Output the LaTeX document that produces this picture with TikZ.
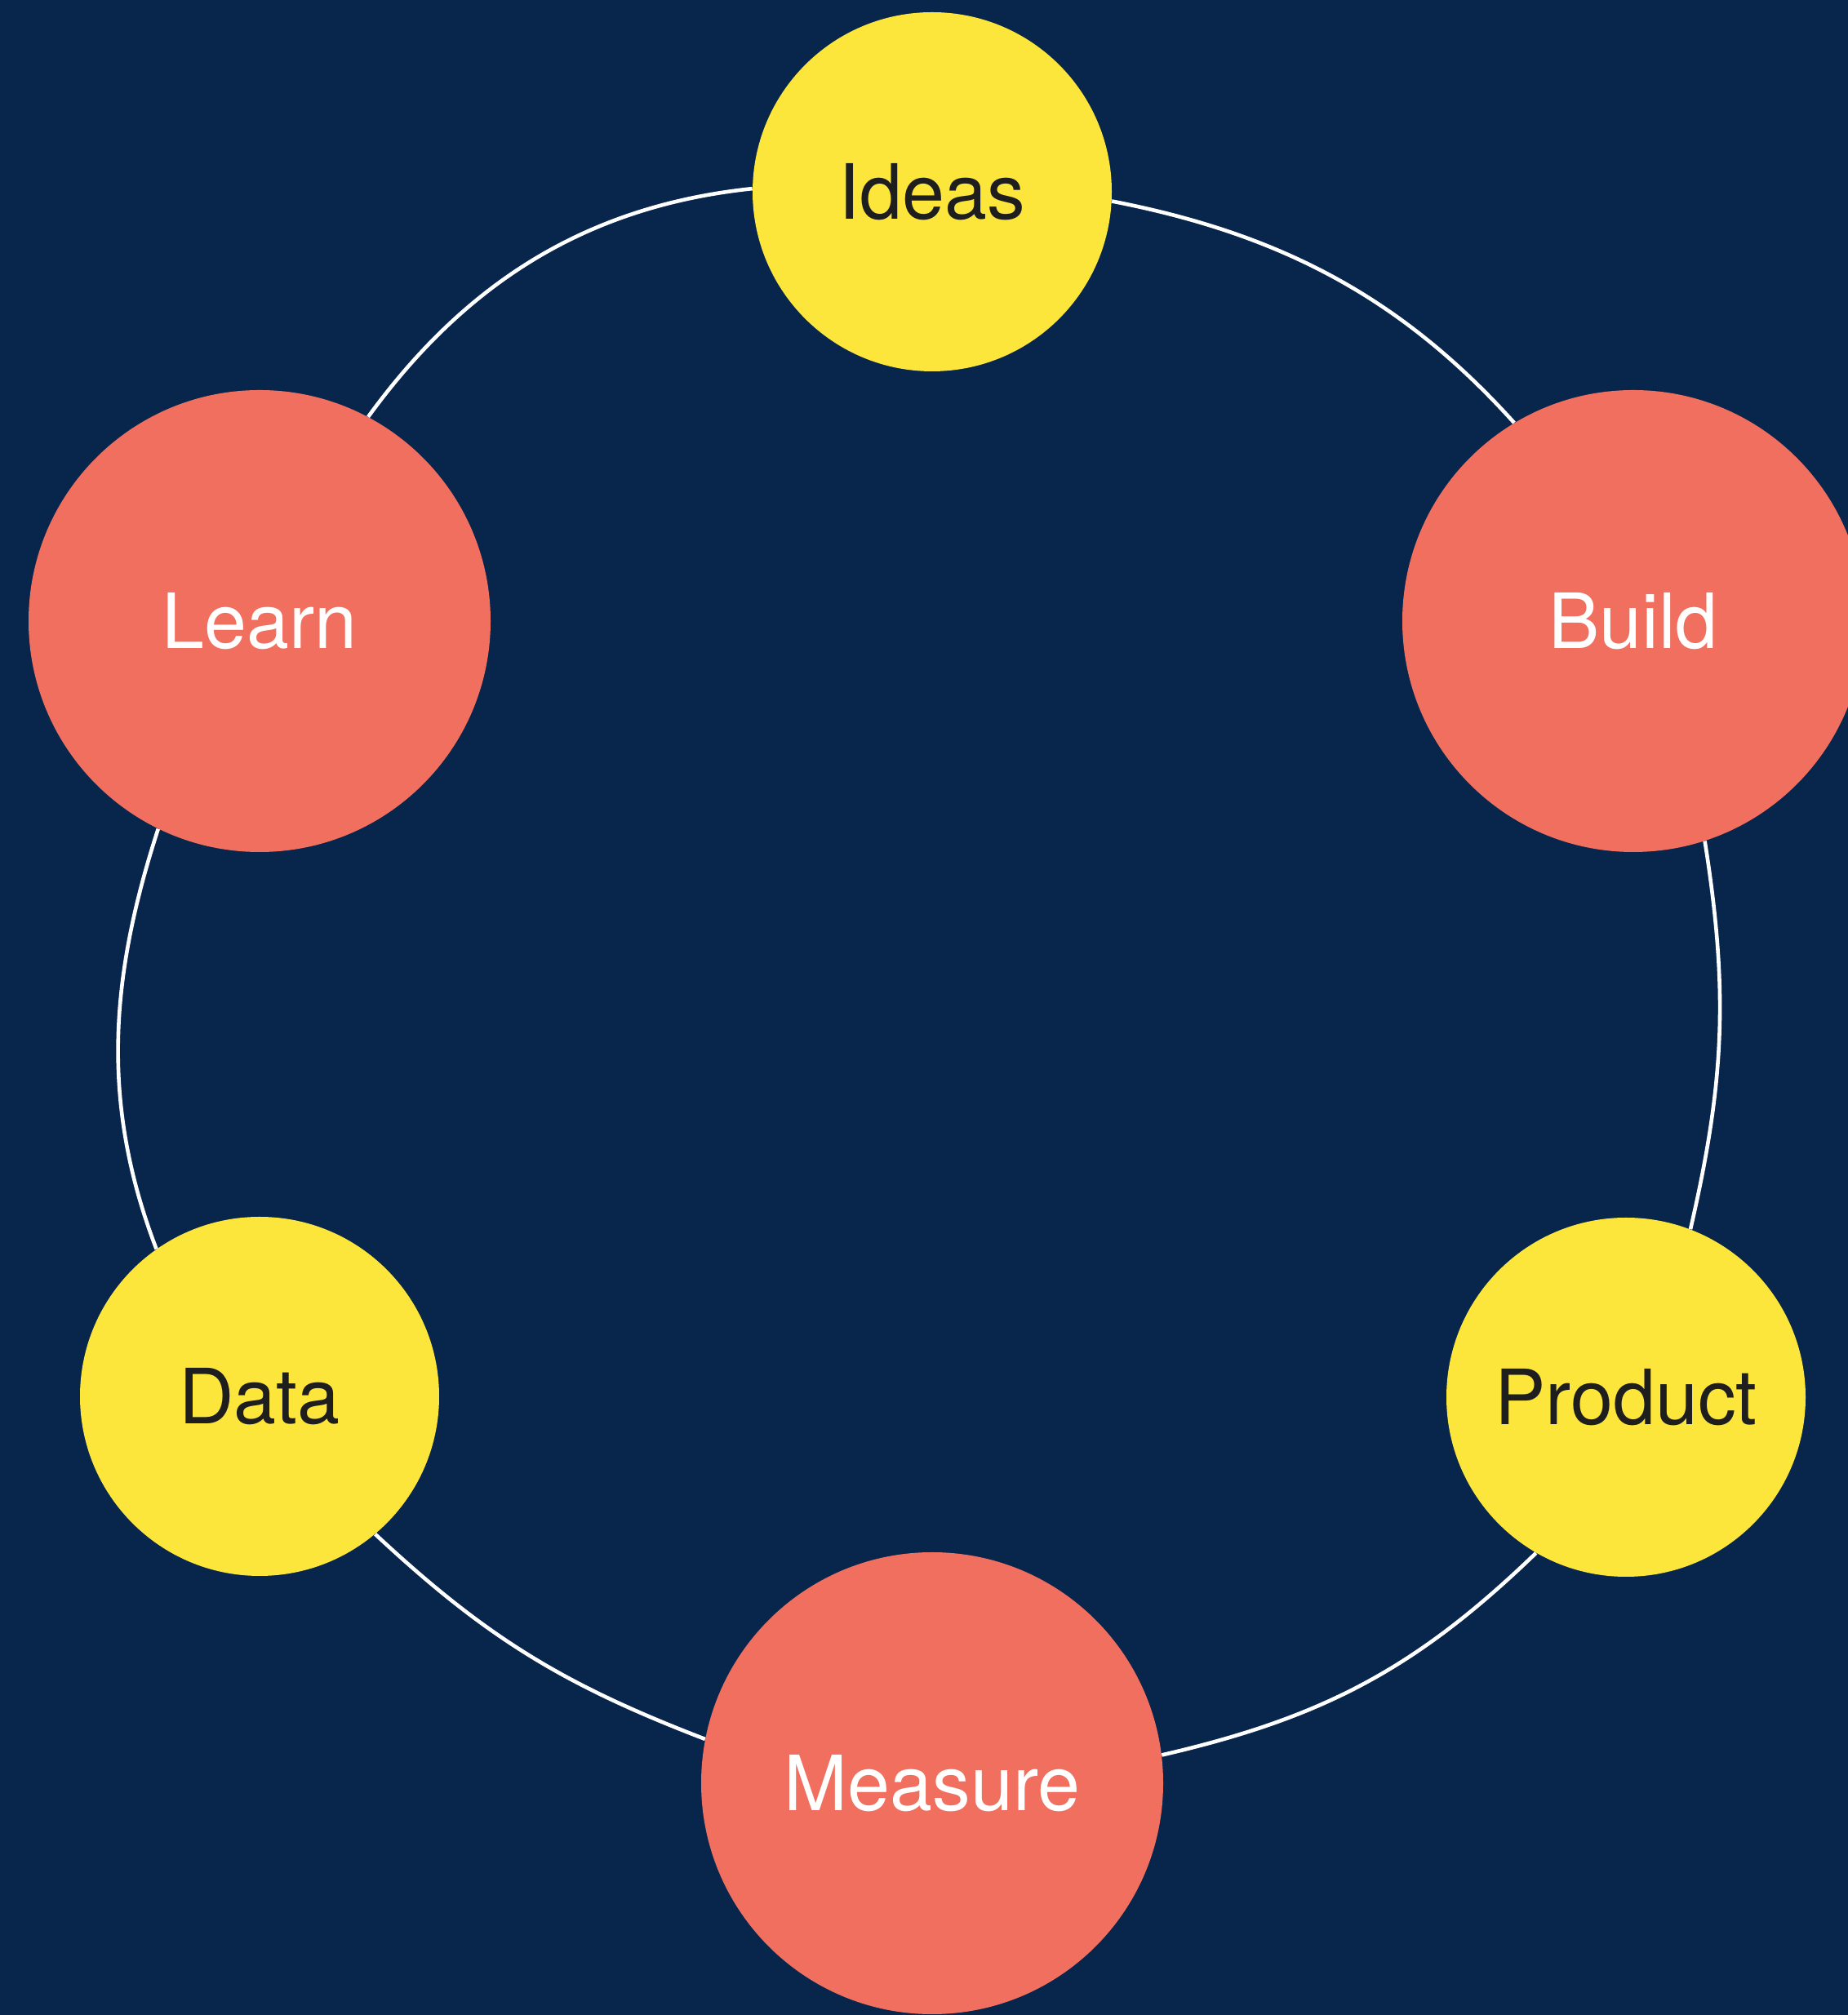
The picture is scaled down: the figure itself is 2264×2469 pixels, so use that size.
\documentclass[tikz,border=0pt]{standalone}
\usepackage{fontspec}
\setmainfont{TeX Gyre Heros}
\definecolor{navybg}{RGB}{8,37,76}
\definecolor{sunyellow}{RGB}{253,230,59}
\definecolor{coral}{RGB}{241,111,94}
\definecolor{inkdark}{RGB}{30,30,30}
\begin{document}
\begin{tikzpicture}[x=0.5pt,y=0.5pt,
  yellownode/.style={circle,fill=sunyellow,inner sep=0pt,minimum size=220pt,text=inkdark,
    font=\fontsize{46.7pt}{56pt}\selectfont},
  coralnode/.style={circle,fill=coral,inner sep=0pt,minimum size=283pt,text=white,
    font=\fontsize{46.7pt}{56pt}\selectfont},
  link/.style={draw=white,line width=2.3pt}]
\useasboundingbox (0,0) rectangle (2264,2469);
\clip (0,0) rectangle (2264,2469);
\fill[navybg] (0,0) rectangle (2264,2469);

\node[yellownode] (ideas) at (1142,2234) {Ideas};
\node[coralnode] (learn) at (318,1708) {Learn};
\node[coralnode] (build) at (2001,1708) {Build};
\node[yellownode] (data) at (318,758) {Data};
\node[yellownode] (product) at (1992,757) {Product};
\node[coralnode] (measure) at (1142,284) {Measure};

\path[link] (ideas.179) to[out=186,in=54,looseness=0.95] (learn.62);
\path[link] (ideas.-3) to[out=-11,in=132,looseness=0.95] (build.121.6);
\path[link] (build.-72) to[out=-81,in=77] (product.69);
\path[link] (product.-120.5) to[out=-136,in=13] (measure.7);
\path[link] (measure.169) to[out=159,in=-43] (data.-50.8);
\path[link] (data.125.5) to[out=111,in=-108,looseness=0.95] (learn.-116.7);
\end{tikzpicture}
\end{document}
